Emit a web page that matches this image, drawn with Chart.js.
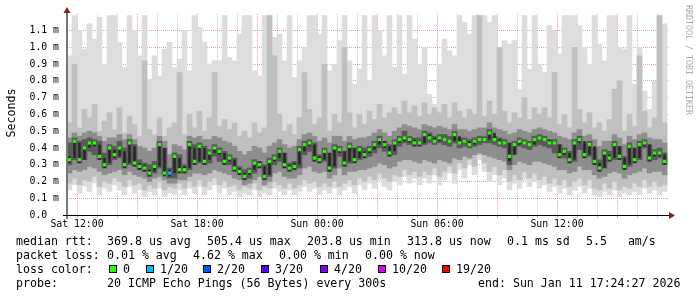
<!DOCTYPE html>
<html>
<head>
<meta charset="utf-8">
<script src="https://cdn.jsdelivr.net/npm/chart.js@4.4.1/dist/chart.umd.min.js"></script>
<style>
  html, body { margin: 0; padding: 0; background: #fff; }
  #wrap { width: 697px; height: 297px; }
</style>
</head>
<body>
<div id="wrap"><canvas id="ping-graph" width="697" height="297"></canvas></div>
<script>
// x axis is hours since Sat 00:00, one sample every 15 minutes
const startHour = 11.5;
const stepHours = 0.25;
const endHour = 41.55;

// y values in ms (axis shows them as "m")
const median = [
  0.33,0.44,0.33,0.40,0.43,0.43,0.35,0.30,0.40,0.36,0.40,0.30,0.43,0.31,0.29,0.28,0.25,0.29,0.42,0.25,0.25,0.35,0.27,
  0.27,0.42,0.32,0.41,0.32,0.37,0.40,0.38,0.32,0.34,0.28,0.26,0.23,0.26,0.31,0.30,0.23,0.32,0.34,0.38,0.30,0.28,0.29,0.39,
  0.42,0.43,0.34,0.33,0.38,0.28,0.40,0.39,0.31,0.41,0.33,0.39,0.36,0.39,0.42,0.45,0.42,0.37,0.43,0.45,0.46,0.45,0.43,0.43,
  0.48,0.46,0.44,0.46,0.45,0.44,0.48,0.43,0.44,0.42,0.44,0.45,0.45,0.49,0.45,0.43,0.43,0.35,0.42,0.44,0.43,0.42,0.45,0.46,
  0.45,0.43,0.43,0.36,0.38,0.33,0.43,0.45,0.36,0.42,0.32,0.28,0.37,0.34,0.42,0.35,0.29,0.41,0.33,0.42,0.43,0.34,0.37,0.37,0.32
];

// smoke bands, from the dark streak in the middle out to the lightest layer
const eLo = [
  0.31,0.34,0.31,0.33,0.40,0.41,0.33,0.28,0.31,0.34,0.35,0.28,0.31,0.29,0.27,0.26,0.23,0.26,0.29,0.23,0.23,0.25,0.25,
  0.25,0.28,0.30,0.32,0.30,0.33,0.37,0.36,0.30,0.32,0.26,0.24,0.21,0.24,0.27,0.28,0.21,0.24,0.32,0.34,0.28,0.26,0.27,0.30,
  0.38,0.41,0.32,0.31,0.33,0.26,0.29,0.37,0.29,0.32,0.31,0.34,0.34,0.37,0.39,0.42,0.40,0.35,0.38,0.43,0.44,0.43,0.41,0.41,
  0.43,0.45,0.43,0.44,0.44,0.43,0.44,0.42,0.43,0.41,0.42,0.44,0.44,0.45,0.44,0.42,0.42,0.32,0.36,0.42,0.42,0.41,0.42,0.45,
  0.44,0.42,0.42,0.34,0.36,0.31,0.33,0.43,0.34,0.36,0.30,0.26,0.28,0.32,0.34,0.33,0.27,0.30,0.31,0.34,0.41,0.32,0.35,0.35,0.30
];
const eHi = [
  0.35,0.45,0.43,0.41,0.44,0.44,0.42,0.34,0.41,0.39,0.41,0.38,0.44,0.41,0.31,0.30,0.27,0.30,0.43,0.40,0.27,0.36,0.34,
  0.29,0.43,0.40,0.42,0.40,0.38,0.41,0.39,0.37,0.35,0.33,0.28,0.25,0.27,0.32,0.32,0.29,0.33,0.35,0.39,0.37,0.30,0.31,0.40,
  0.43,0.44,0.42,0.35,0.39,0.37,0.41,0.40,0.38,0.42,0.40,0.40,0.38,0.40,0.43,0.46,0.44,0.41,0.44,0.46,0.47,0.46,0.45,0.44,
  0.49,0.48,0.46,0.47,0.46,0.45,0.49,0.47,0.45,0.44,0.45,0.46,0.46,0.50,0.49,0.45,0.44,0.43,0.43,0.45,0.44,0.43,0.46,0.47,
  0.46,0.45,0.44,0.42,0.39,0.37,0.44,0.46,0.44,0.43,0.41,0.31,0.38,0.36,0.43,0.41,0.34,0.42,0.40,0.43,0.44,0.42,0.38,0.38,0.36
];
const dLo = [
  0.30,0.33,0.31,0.33,0.38,0.36,0.33,0.28,0.30,0.33,0.34,0.28,0.30,0.29,0.27,0.26,0.23,0.25,0.28,0.24,0.22,0.22,0.25,
  0.25,0.27,0.30,0.31,0.30,0.31,0.35,0.32,0.30,0.30,0.26,0.24,0.21,0.22,0.25,0.28,0.21,0.23,0.30,0.32,0.28,0.26,0.27,0.28,
  0.36,0.38,0.32,0.31,0.32,0.26,0.28,0.35,0.29,0.31,0.31,0.33,0.34,0.35,0.37,0.40,0.38,0.35,0.36,0.41,0.43,0.42,0.41,0.41,
  0.42,0.43,0.42,0.43,0.42,0.41,0.43,0.40,0.41,0.40,0.41,0.42,0.43,0.43,0.42,0.41,0.40,0.30,0.36,0.41,0.40,0.39,0.41,0.42,
  0.41,0.40,0.37,0.34,0.34,0.31,0.32,0.39,0.34,0.35,0.30,0.26,0.28,0.32,0.33,0.33,0.27,0.29,0.31,0.33,0.40,0.32,0.33,0.34,0.30
];
const dHi = [
  0.43,0.46,0.44,0.45,0.46,0.45,0.44,0.37,0.42,0.41,0.44,0.40,0.45,0.42,0.33,0.31,0.30,0.32,0.44,0.40,0.28,0.37,0.36,
  0.30,0.44,0.42,0.43,0.41,0.39,0.42,0.40,0.38,0.36,0.34,0.29,0.27,0.28,0.33,0.32,0.30,0.34,0.36,0.40,0.37,0.31,0.32,0.41,
  0.44,0.45,0.43,0.36,0.40,0.37,0.42,0.41,0.38,0.43,0.40,0.41,0.40,0.41,0.44,0.47,0.44,0.42,0.45,0.47,0.50,0.47,0.46,0.46,
  0.50,0.49,0.47,0.48,0.48,0.47,0.50,0.46,0.46,0.45,0.46,0.47,0.47,0.51,0.47,0.46,0.45,0.43,0.44,0.46,0.45,0.44,0.47,0.48,
  0.47,0.45,0.45,0.42,0.40,0.38,0.45,0.47,0.43,0.44,0.40,0.33,0.39,0.38,0.44,0.41,0.35,0.43,0.40,0.44,0.45,0.42,0.39,0.40,0.37
];
const cLo = [
  0.25,0.27,0.26,0.27,0.29,0.28,0.26,0.24,0.25,0.26,0.27,0.24,0.26,0.24,0.23,0.22,0.20,0.22,0.23,0.21,0.19,0.19,0.21,
  0.21,0.23,0.25,0.25,0.24,0.25,0.27,0.26,0.25,0.24,0.22,0.21,0.18,0.19,0.21,0.23,0.18,0.20,0.25,0.26,0.23,0.22,0.22,0.24,
  0.28,0.29,0.26,0.25,0.26,0.22,0.24,0.28,0.24,0.26,0.26,0.27,0.27,0.28,0.29,0.31,0.30,0.28,0.29,0.32,0.33,0.33,0.32,0.31,
  0.33,0.32,0.31,0.33,0.32,0.31,0.34,0.33,0.35,0.34,0.36,0.37,0.36,0.35,0.34,0.33,0.32,0.27,0.30,0.32,0.31,0.30,0.32,0.32,
  0.31,0.30,0.29,0.27,0.27,0.25,0.26,0.29,0.27,0.27,0.24,0.22,0.23,0.25,0.26,0.25,0.22,0.24,0.25,0.26,0.28,0.25,0.26,0.26,0.24
];
const cHi = [
  0.46,0.49,0.47,0.49,0.50,0.49,0.47,0.44,0.46,0.46,0.48,0.45,0.48,0.45,0.41,0.40,0.38,0.40,0.47,0.44,0.36,0.42,0.41,
  0.39,0.47,0.46,0.47,0.45,0.45,0.47,0.46,0.44,0.43,0.41,0.38,0.36,0.38,0.41,0.40,0.37,0.41,0.43,0.45,0.42,0.40,0.41,0.45,
  0.48,0.49,0.47,0.44,0.46,0.43,0.47,0.47,0.44,0.47,0.45,0.46,0.46,0.47,0.49,0.51,0.49,0.47,0.50,0.52,0.54,0.53,0.52,0.51,
  0.54,0.53,0.52,0.53,0.52,0.51,0.54,0.51,0.51,0.50,0.51,0.52,0.52,0.55,0.52,0.51,0.50,0.48,0.49,0.51,0.50,0.49,0.51,0.52,
  0.51,0.50,0.49,0.47,0.46,0.45,0.49,0.51,0.47,0.48,0.45,0.41,0.44,0.44,0.48,0.46,0.42,0.47,0.45,0.48,0.49,0.46,0.45,0.45,0.43
];
const bLo = [
  0.19,0.22,0.18,0.21,0.20,0.23,0.17,0.20,0.19,0.22,0.20,0.17,0.21,0.18,0.19,0.15,0.18,0.16,0.20,0.15,0.17,0.16,0.19,
  0.16,0.20,0.17,0.21,0.17,0.20,0.22,0.18,0.20,0.17,0.18,0.15,0.17,0.16,0.19,0.15,0.17,0.16,0.20,0.18,0.16,0.19,0.16,0.18,
  0.21,0.19,0.20,0.17,0.19,0.17,0.20,0.17,0.19,0.21,0.18,0.22,0.20,0.23,0.21,0.25,0.22,0.20,0.24,0.23,0.27,0.24,0.26,0.23,
  0.26,0.24,0.28,0.23,0.26,0.29,0.25,0.31,0.28,0.33,0.29,0.36,0.31,0.26,0.29,0.24,0.27,0.20,0.24,0.21,0.26,0.22,0.25,0.21,
  0.23,0.19,0.22,0.18,0.21,0.17,0.20,0.22,0.18,0.21,0.16,0.15,0.19,0.16,0.20,0.15,0.17,0.16,0.19,0.17,0.21,0.17,0.20,0.17,0.18
];
const bHi = [
  0.55,0.90,0.52,0.63,0.58,0.66,0.50,0.56,0.61,0.51,0.64,0.49,0.59,0.54,0.47,0.92,0.51,0.48,0.58,0.47,0.52,0.55,0.85,
  0.48,0.60,0.52,0.62,0.50,0.58,0.85,0.53,0.57,0.51,0.55,0.47,0.50,0.46,0.55,0.49,0.52,1.19,0.95,0.60,0.50,0.54,0.48,0.58,
  0.85,0.63,0.54,0.58,0.90,0.50,0.60,0.55,1.00,0.61,0.52,0.60,0.54,0.62,0.57,0.66,0.58,0.61,0.64,0.60,0.68,0.61,0.65,0.59,
  0.67,0.60,0.64,0.61,0.66,0.58,0.67,0.62,0.58,0.63,0.60,1.19,0.59,0.68,0.60,1.00,0.62,0.55,0.61,0.58,0.70,0.57,0.64,0.60,
  0.64,0.58,0.85,0.54,0.60,0.52,1.00,0.63,0.55,0.61,0.52,0.55,0.50,0.57,0.75,0.80,0.50,0.60,0.53,0.95,0.62,0.52,0.58,1.19,0.55
];
const aLo = [
  0.15,0.18,0.13,0.17,0.14,0.19,0.12,0.16,0.14,0.18,0.15,0.12,0.17,0.13,0.15,0.11,0.14,0.12,0.16,0.11,0.13,0.12,0.15,
  0.12,0.16,0.13,0.17,0.12,0.15,0.18,0.13,0.16,0.12,0.14,0.11,0.13,0.12,0.15,0.11,0.13,0.12,0.16,0.14,0.12,0.15,0.12,0.14,
  0.17,0.14,0.16,0.12,0.15,0.13,0.16,0.12,0.15,0.17,0.13,0.18,0.15,0.19,0.16,0.21,0.17,0.15,0.20,0.18,0.23,0.19,0.22,0.18,
  0.22,0.19,0.24,0.18,0.21,0.25,0.19,0.27,0.22,0.30,0.24,0.33,0.26,0.20,0.24,0.18,0.22,0.15,0.19,0.16,0.21,0.17,0.20,0.16,
  0.18,0.14,0.17,0.13,0.16,0.12,0.15,0.17,0.13,0.16,0.12,0.11,0.14,0.12,0.15,0.11,0.13,0.12,0.14,0.12,0.16,0.13,0.15,0.12,0.14
];
const aHi = [
  0.95,1.19,1.10,0.99,1.14,1.05,1.18,0.90,1.19,1.19,1.03,0.88,1.19,1.10,0.95,1.19,0.81,0.95,0.83,0.99,1.03,0.88,0.93,
  1.10,0.86,1.19,1.12,1.03,0.90,0.92,0.92,1.19,0.94,0.92,1.08,1.19,1.19,0.86,0.83,1.19,1.19,1.06,1.08,0.92,1.19,0.82,0.92,
  1.00,1.19,1.19,1.08,1.19,0.86,0.90,1.04,1.19,0.92,0.78,0.87,1.19,0.80,1.19,1.10,0.95,1.19,0.88,1.19,0.84,1.19,1.05,0.90,
  1.00,0.72,0.66,0.90,1.05,0.98,0.95,1.19,1.15,1.08,1.19,1.19,1.19,1.15,1.19,1.00,1.04,1.02,1.04,0.75,1.19,0.87,1.19,0.90,
  0.85,1.13,1.10,0.96,1.19,1.19,1.19,1.13,1.00,0.90,1.19,1.02,0.92,1.19,1.19,1.00,0.99,1.19,0.78,1.00,0.74,0.63,0.80,1.19,1.14
];

// [sample index, pings lost out of 20]
const lossSamples = [[20, 1]];

const lossLevels = [0, 1, 2, 3, 4, 10, 19];
const lossLabels = ['0', '1/20', '2/20', '3/20', '4/20', '10/20', '19/20'];
const lossColors = ['#26ff00', '#00b8ff', '#0059ff', '#5e00ff', '#7e00ff', '#dd00ff', '#ff0000'];

// axis ticks
const yTickValues = [0, 0.1, 0.2, 0.3, 0.4, 0.5, 0.6, 0.7, 0.8, 0.9, 1.0, 1.1];
const yTickLabels = ['0.0\u00a0\u00a0', '0.1 m', '0.2 m', '0.3 m', '0.4 m', '0.5 m', '0.6 m', '0.7 m', '0.8 m', '0.9 m', '1.0 m', '1.1 m'];
const xLabelHours = [12, 18, 24, 30, 36];
const xLabelTexts = ['Sat 12:00', 'Sat 18:00', 'Sun 00:00', 'Sun 06:00', 'Sun 12:00'];

// legend text
const rttStats = ['369.8 us avg', '505.4 us max', '203.8 us min', '313.8 us now', '0.1 ms sd', '5.5   am/s'];
const lossStats = ['0.01 % avg', '4.62 % max', '0.00 % min', '0.00 % now'];
const probeText = '20 ICMP Echo Pings (56 Bytes) every 300s';
const endText = 'end: Sun Jan 11 17:24:27 2026';

const gridHours = [];
for (let h = 12; h <= 41; h++) gridHours.push(h);

const xs = median.map((v, i) => startHour + stepHours * (i + 0.5));

function band(lo, hi) {
    return lo.map((v, i) => ({ x: xs[i], y: [v, hi[i]] }));
}

const medianColors = median.map((v, i) => {
    const hit = lossSamples.find(s => s[0] === i);
    const lost = hit ? hit[1] : 0;
    let c = lossColors[0];
    lossLevels.forEach((lv, k) => { if (lost >= lv) c = lossColors[k]; });
    return c;
});

const mono = "'DejaVu Sans Mono', monospace";
const majorGrid = 'rgba(190,30,30,0.42)';
const minorGrid = 'rgba(120,120,120,0.4)';

function smoke(label, lo, hi, color, order, width) {
    return {
        label,
        data: band(lo, hi),
        backgroundColor: color,
        borderWidth: 0,
        grouped: false,
        barPercentage: width,
        categoryPercentage: 1,
        order
    };
}

// axes, arrows, titles and the rrdtool style legend
const rrdDecor = {
    id: 'rrdDecor',
    beforeDraw(chart) {
        const c = chart.ctx;
        c.save();
        c.fillStyle = '#fff';
        c.fillRect(0, 0, chart.width, chart.height);
        c.restore();
    },
    afterDraw(chart) {
        const c = chart.ctx;
        c.save();

        // y axis + arrow
        c.fillStyle = '#777';
        c.fillRect(66, 11, 2, 208);
        c.fillStyle = '#7f1f1f';
        c.beginPath();
        c.moveTo(67, 7); c.lineTo(70.5, 13); c.lineTo(63.5, 13); c.closePath();
        c.fill();

        // x axis + arrow
        c.fillStyle = '#000';
        c.fillRect(63, 215, 606, 1);
        c.fillStyle = '#7f1f1f';
        c.beginPath();
        c.moveTo(675, 215.5); c.lineTo(669, 212); c.lineTo(669, 219); c.closePath();
        c.fill();

        // axis title
        c.fillStyle = '#000';
        c.font = '11.6px ' + mono;
        c.textAlign = 'center';
        c.textBaseline = 'alphabetic';
        c.save();
        c.translate(15, 113);
        c.rotate(-Math.PI / 2);
        c.fillText('Seconds', 0, 0);
        c.restore();

        // watermark
        c.save();
        c.fillStyle = '#aaa';
        c.font = '8.3px ' + mono;
        c.textAlign = 'left';
        c.translate(685.5, 5);
        c.rotate(Math.PI / 2);
        c.fillText('RRDTOOL / TOBI OETIKER', 0, 0);
        c.restore();

        // legend
        c.fillStyle = '#000';
        c.font = '11.6px ' + mono;
        c.textAlign = 'left';
        c.textBaseline = 'alphabetic';

        c.fillText('median rtt:', 16, 245);
        [107, 207, 307, 407, 507, 586].forEach((x, i) => c.fillText(rttStats[i], x, 245));

        c.fillText('packet loss:', 16, 259);
        [107, 193, 279, 365].forEach((x, i) => c.fillText(lossStats[i], x, 259));

        c.fillText('loss color:', 16, 273);
        const boxX = [109, 146, 203, 261, 320, 378, 442];
        lossLabels.forEach((t, i) => {
            c.fillStyle = '#000';
            c.fillRect(boxX[i], 265, 8, 8);
            c.fillStyle = lossColors[i];
            c.fillRect(boxX[i] + 1, 266, 6, 6);
            c.fillStyle = '#000';
            c.fillText(t, boxX[i] + 14, 273);
        });

        c.fillText('probe:', 16, 287);
        c.fillText(probeText, 107, 287);
        c.fillText(endText, 478, 287);

        c.restore();
    }
};

const ctx = document.getElementById('ping-graph').getContext('2d');
new Chart(ctx, {
    type: 'bar',
    data: {
        datasets: [
            {
                type: 'line',
                label: 'median rtt',
                data: median.map((v, i) => ({ x: xs[i], y: v })),
                showLine: false,
                pointStyle: 'rect',
                pointRadius: 2.3,
                pointBorderWidth: 0,
                pointBackgroundColor: medianColors,
                order: 0
            },
            smoke('smoke 5', eLo, eHi, '#262626', 1, 0.5),
            smoke('smoke 4', dLo, dHi, '#5a5a5a', 2, 1),
            smoke('smoke 3', cLo, cHi, '#8e8e8e', 3, 1),
            smoke('smoke 2', bLo, bHi, '#c0c0c0', 4, 1),
            smoke('smoke 1', aLo, aHi, '#dddddd', 5, 1)
        ]
    },
    options: {
        responsive: false,
        animation: false,
        devicePixelRatio: 1,
        layout: { padding: { left: 0, right: 29, top: 13, bottom: 62 } },
        plugins: { legend: { display: false }, tooltip: { enabled: false } },
        scales: {
            x: {
                type: 'linear',
                min: startHour,
                max: endHour,
                bounds: 'data',
                offset: false,
                z: 1,
                afterFit: s => { s.height = 20; },
                afterBuildTicks: s => { s.ticks = gridHours.map(h => ({ value: h })); },
                ticks: {
                    autoSkip: false,
                    maxRotation: 0,
                    padding: 1,
                    color: '#000',
                    font: { family: mono, size: 9.8 },
                    callback: v => {
                        const k = xLabelHours.indexOf(v);
                        return k < 0 ? '' : xLabelTexts[k];
                    }
                },
                grid: {
                    offset: false,
                    lineWidth: 1,
                    tickLength: 3,
                    color: c => (c.tick && c.tick.value % 3 === 0) ? majorGrid : minorGrid
                },
                border: { display: false, dash: [1, 1] }
            },
            y: {
                min: 0,
                max: 1.2,
                z: 1,
                afterFit: s => { s.width = 67; },
                afterBuildTicks: s => { s.ticks = yTickValues.map(v => ({ value: v })); },
                ticks: {
                    padding: 8,
                    color: '#000',
                    font: { family: mono, size: 9.8 },
                    callback: (v, i) => yTickLabels[i]
                },
                grid: {
                    drawTicks: false,
                    lineWidth: 1,
                    color: c => (c.tick && c.tick.value > 0) ? majorGrid : 'rgba(0,0,0,0)'
                },
                border: { display: false, dash: [1, 1] }
            }
        }
    },
    plugins: [rrdDecor]
});
</script>
</body>
</html>
